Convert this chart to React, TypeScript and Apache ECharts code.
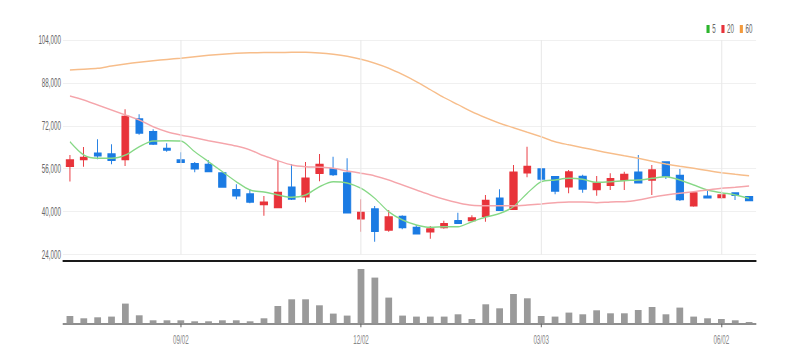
import React, { useEffect, useRef } from "react";
import * as echarts from "echarts";

const categories = [
  "07/08", "07/15", "07/22", "07/29", "08/05", "08/12", "08/19", "08/26", "09/02", "09/09",
  "09/16", "09/23", "09/30", "10/07", "10/14", "10/21", "10/28", "11/04", "11/11", "11/18",
  "11/25", "12/02", "12/09", "12/16", "12/23", "12/30", "01/06", "01/13", "01/20", "01/27",
  "02/03", "02/10", "02/17", "02/24", "03/03", "03/10", "03/17", "03/24", "03/31", "04/07",
  "04/14", "04/21", "04/28", "05/05", "05/12", "05/19", "05/26", "06/02", "06/09", "06/16",
];

const opens = [
  57000, 59500, 61750, 61400, 59500, 74500, 69700, 63500, 59150, 57750,
  57500, 54300, 48050, 46550, 42700, 41600, 49050, 45550, 54400, 55900,
  54300, 37350, 40950, 33150, 38100, 34000, 32500, 34150, 36500, 36750,
  38350, 44950, 40950, 54500, 55800, 52900, 49300, 53000, 48300, 49900,
  51800, 54650, 51800, 58400, 53400, 42200, 45700, 45350, 46850, 45450,
];
const closes = [
  59200, 60100, 60850, 59250, 75400, 69400, 65300, 63000, 58500, 56000,
  55050, 49200, 45950, 43600, 43450, 47050, 44800, 52400, 57500, 53900,
  39600, 39600, 32750, 37900, 34150, 31750, 33500, 35400, 35750, 37600,
  44050, 40600, 54650, 56750, 52250, 47700, 54750, 48450, 50550, 52150,
  53750, 50800, 55500, 53300, 44600, 46850, 45200, 46100, 46200, 44200,
];
const lows = [
  51200, 56750, 59500, 57650, 57000, 68700, 64850, 62350, 58500, 54650,
  54750, 48900, 44600, 43100, 38450, 41250, 44350, 43450, 51300, 53300,
  39350, 32500, 28750, 32500, 33400, 31550, 29900, 33600, 35750, 36500,
  36250, 40250, 40600, 52800, 51400, 46450, 46850, 47050, 45950, 48050,
  48050, 50800, 46200, 52150, 43950, 41850, 44950, 44700, 44350, 44050,
];
const highs = [
  61100, 64100, 67000, 65100, 78150, 76300, 70700, 65500, 62100, 58500,
  59250, 54650, 50200, 48300, 45800, 59000, 57750, 58500, 61500, 60500,
  59900, 44600, 42100, 40600, 38600, 35000, 34650, 36600, 39600, 38600,
  46200, 48300, 57400, 64200, 56150, 53300, 55500, 53750, 53300, 54300,
  54900, 61100, 57400, 58600, 55900, 47200, 47800, 47450, 47050, 45700,
];
const volumes = [
  73000, 50000, 60000, 67000, 197000, 80000, 30000, 30000, 30000, 20000,
  20000, 30000, 30000, 20000, 50000, 173000, 240000, 240000, 180000, 97000,
  77000, 543000, 457000, 257000, 77000, 67000, 67000, 67000, 90000, 43000,
  190000, 150000, 293000, 250000, 73000, 67000, 107000, 90000, 130000, 100000,
  100000, 133000, 163000, 90000, 157000, 67000, 50000, 43000, 30000, 13000,
];
const ma5 = [
  66050, 61100, 59900, 59900, 61100, 64200, 66350, 66450, 66350, 62350,
  58600, 54900, 51150, 48050, 47300, 46200, 45350, 46200, 49300, 51150,
  50700, 48700, 44950, 39950, 36850, 35000, 34150, 34350, 34350, 36250,
  38000, 39250, 41850, 46850, 51150, 51800, 52400, 52050, 50950, 51150,
  51550, 51800, 52400, 53000, 51800, 49900, 48050, 47050, 46200, 44950,
];
const ma20 = [
  83100, 81650, 79750, 77900, 76050, 74150, 71650, 69800, 68550, 67550,
  66450, 65500, 64450, 63000, 60800, 59000, 57400, 56750, 56550, 56150,
  55150, 54300, 53300, 51800, 49900, 48050, 46200, 44600, 43300, 42350,
  42200, 42200, 42200, 42450, 42850, 43300, 43600, 43600, 43300, 43600,
  43700, 44350, 45350, 46200, 46850, 47450, 48050, 48700, 49050, 49550,
];
const ma60 = [
  92800, 93100, 93450, 94300, 95050, 95700, 96300, 96750, 97200, 97750,
  98300, 98700, 99050, 99200, 99300, 99300, 99400, 99400, 99150, 98650,
  97900, 96800, 95300, 93450, 91100, 88450, 85500, 82500, 79900, 77250,
  75000, 72950, 71300, 69600, 67900, 66050, 64900, 63850, 62800, 61750,
  60800, 59900, 58800, 57750, 56900, 56150, 55300, 54500, 53900, 53400,
];
const labelDates = ["09/02", "12/02", "03/03", "06/02"];
const maNames = ["5", "20", "60"];

const SQUISH = 0.52;
const WIDTH = 794;
const HEIGHT = 363;

export default function App() {
  const ref = useRef<HTMLDivElement>(null);

  useEffect(() => {
    if (!ref.current) return;
    const chart = echarts.init(ref.current, null, { renderer: "svg" });
    const showLabel = (index: number) => labelDates.indexOf(categories[index]) >= 0;
    const fmt = (v: number) => String(v).replace(/\B(?=(\d{3})+(?!\d))/g, ",");
    const candleData = categories.map((_, i) => [opens[i], closes[i], lows[i], highs[i]]);
    const sx = (px: number) => px / SQUISH;

    const option: any = {
      animation: false,
      textStyle: { fontFamily: "'Liberation Sans', Arial, sans-serif" },
      legend: {
        right: sx(39),
        top: 18,
        icon: "rect",
        itemWidth: 6,
        itemHeight: 8,
        itemGap: 11,
        textStyle: { fontSize: 12, color: "#666" },
        data: [
          { name: maNames[0], itemStyle: { color: "#2db52d" } },
          { name: maNames[1], itemStyle: { color: "#e8333a" } },
          { name: maNames[2], itemStyle: { color: "#f39a3c" } },
        ],
      },
      grid: [
        { left: sx(63), right: sx(38), top: 40, height: 214.5 },
        { left: sx(63), right: sx(38), top: 268, height: 55.3 },
      ],
      xAxis: [
        {
          type: "category",
          gridIndex: 0,
          data: categories,
          boundaryGap: true,
          offset: 6.5,
          axisLine: { show: true, lineStyle: { color: "#1a1a1a", width: 2 } },
          axisTick: { show: false },
          axisLabel: { show: false },
          splitLine: { show: false },
        },
        {
          type: "category",
          gridIndex: 1,
          data: categories,
          boundaryGap: true,
          axisLine: { show: true, lineStyle: { color: "#6a6a6a", width: 1.5 } },
          axisTick: {
            show: true,
            alignWithLabel: true,
            interval: showLabel,
            length: 4,
            lineStyle: { color: "#666", width: 2 },
          },
          axisLabel: { interval: showLabel, fontSize: 12, color: "#888", margin: 10 },
          splitLine: { show: false },
        },
      ],
      yAxis: [
        {
          type: "value",
          gridIndex: 0,
          min: 24000,
          max: 104000,
          interval: 16000,
          axisLine: { show: false },
          axisTick: { show: false },
          axisLabel: { fontSize: 12, color: "#666", margin: 4, formatter: fmt },
          splitLine: { show: true, lineStyle: { color: "#ebebeb", width: 1 } },
        },
        {
          type: "value",
          gridIndex: 1,
          min: 0,
          max: 553000,
          show: false,
          splitLine: { show: false },
        },
      ],
      series: [
        {
          type: "line",
          name: "vgrid",
          xAxisIndex: 0,
          yAxisIndex: 0,
          data: [],
          z: 1,
          silent: true,
          markLine: {
            silent: true,
            symbol: ["none", "none"],
            label: { show: false },
            lineStyle: { color: "#e8e8e8", width: 2, type: "solid" },
            emphasis: { disabled: true },
            data: labelDates.map((d) => ({ xAxis: d })),
          },
        },
        {
          type: "candlestick",
          name: "price",
          xAxisIndex: 0,
          yAxisIndex: 0,
          data: candleData,
          barWidth: 14,
          z: 2,
          itemStyle: {
            color: "#e8333a",
            color0: "#1b7be3",
            borderColor: "#e8333a",
            borderColor0: "#1b7be3",
            borderWidth: 1.8,
          },
        },
        {
          type: "line",
          name: maNames[0],
          xAxisIndex: 0,
          yAxisIndex: 0,
          data: ma5,
          smooth: 0.3,
          showSymbol: false,
          z: 3,
          itemStyle: { color: "#2db52d" },
          lineStyle: { color: "#86d886", width: 1.5 },
        },
        {
          type: "line",
          name: maNames[1],
          xAxisIndex: 0,
          yAxisIndex: 0,
          data: ma20,
          smooth: 0.3,
          showSymbol: false,
          z: 3,
          itemStyle: { color: "#e8333a" },
          lineStyle: { color: "#f5a5ab", width: 1.5 },
        },
        {
          type: "line",
          name: maNames[2],
          xAxisIndex: 0,
          yAxisIndex: 0,
          data: ma60,
          smooth: 0.3,
          showSymbol: false,
          z: 3,
          itemStyle: { color: "#f39a3c" },
          lineStyle: { color: "#f7bd8a", width: 1.5 },
        },
        {
          type: "bar",
          name: "volume",
          xAxisIndex: 1,
          yAxisIndex: 1,
          data: volumes,
          barWidth: 13,
          itemStyle: { color: "#9a9a9a" },
        },
      ],
    };
    chart.setOption(option);
    return () => chart.dispose();
  }, []);

  return (
    <div
      style={{
        position: "fixed",
        left: 0,
        top: 0,
        width: WIDTH,
        height: HEIGHT,
        overflow: "hidden",
        background: "#fff",
      }}
    >
      <div
        ref={ref}
        style={{
          width: WIDTH / SQUISH,
          height: HEIGHT,
          transform: `scaleX(${SQUISH})`,
          transformOrigin: "0 0",
        }}
      />
    </div>
  );
}
